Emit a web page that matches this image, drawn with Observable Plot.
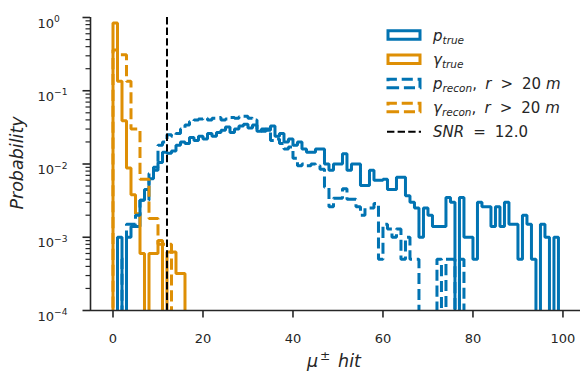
<!DOCTYPE html>
<html>
<head>
<meta charset="utf-8">
<script src="https://cdn.jsdelivr.net/npm/d3@7"></script>
<script src="https://cdn.jsdelivr.net/npm/@observablehq/plot@0.6"></script>
<style>
  body { margin: 0; background: #fff; }
  #chart svg { display: block; }
</style>
</head>
<body>
<div id="chart"></div>
<script>
// Per-hit histograms, bin width 1 starting at 0 hits, normalised to probability.
// A zero entry means an empty bin.
const pTrue = [
  0, 0.0010, 0, 0.0010, 0.0014, 0.0014, 0.0032, 0.0045, 0.0063, 0.0082,
  0.0105, 0.0145, 0.0140, 0.0150, 0.0180, 0.0200, 0.0190, 0.0230, 0.0210, 0.0240,
  0.0220, 0.0260, 0.0240, 0.0270, 0.0290, 0.0320, 0.0270, 0.0300, 0.0330, 0.0350,
  0.0310, 0.0340, 0.0280, 0.0300, 0.0290, 0.0330, 0.0240, 0.0260, 0.0200, 0.0220,
  0.0180, 0.0200, 0.0160, 0.0145, 0.0145, 0.0160, 0.0160, 0.0100, 0.0082, 0.0100,
  0.0100, 0.0138, 0.0082, 0.0100, 0.0100, 0.0051, 0.0051, 0.0082, 0.0060, 0.0060,
  0.0062, 0.0045, 0.0045, 0.0066, 0.0066, 0.0037, 0.0030, 0.0025, 0.0010, 0.0025,
  0.0020, 0.0014, 0.0014, 0.0014, 0.0035, 0.0030, 0, 0.0035, 0.0010, 0.0010,
  0.0005, 0.0030, 0.0026, 0.0026, 0.0014, 0.0026, 0.0014, 0.0030, 0.0015, 0.0015,
  0.0005, 0.0020, 0.0015, 0.0005, 0, 0.0015, 0.0010, 0, 0.0010, 0
];
const gammaTrue = [
  0.84, 0.135, 0.039, 0.0088, 0.0038, 0.0021, 0.0006, 0, 0.0006, 0.0006,
  0.0009, 0, 0.00063, 0.00063, 0.00032, 0.00032
];
const pRecon = [
  0, 0, 0.0005, 0.0015, 0.0015, 0.0020, 0.0032, 0.0032, 0.0074, 0.0090,
  0.0180, 0.0200, 0.0250, 0.0240, 0.0260, 0.0300, 0.0340, 0.0380, 0.0400, 0.0410,
  0.0420, 0.0400, 0.0420, 0.0430, 0.0400, 0.0410, 0.0430, 0.0420, 0.0440, 0.0450,
  0.0420, 0.0400, 0.0300, 0.0280, 0.0300, 0.0210, 0.0220, 0.0190, 0.0160, 0.0170,
  0.0120, 0.0095, 0.0100, 0.0095, 0.0100, 0.0095, 0.0085, 0.0048, 0.0026, 0.0034,
  0.0034, 0.0046, 0.0033, 0.0033, 0.0026, 0.0020, 0.0025, 0.0025, 0.0029, 0.0005,
  0.0015, 0.0013, 0.0010, 0.0013, 0.0005, 0.0010, 0.0005, 0.0005, 0, 0,
  0, 0, 0.0005, 0, 0.0005, 0.0005, 0, 0.0005
];
const gammaRecon = [
  0.36, 0.31, 0.31, 0.135, 0.030, 0.030, 0.0062, 0.0062, 0.0018, 0.0018,
  0.0008, 0.0008, 0.0008
];
const snrThreshold = 12.0;

// Axis ticks
const xTicks = [0, 20, 40, 60, 80, 100];
const yExponents = [-4, -3, -2, -1, 0];
const yMinorMultipliers = [2, 3, 4, 5, 6, 7, 8, 9];

const blue = "#0173b2";
const orange = "#de8f05";
const ink = "#262626";
const dashed = "11.1,4.8";

const xDomain = [-5, 103.9];
const yDomain = [1e-4, 1];
const emptyLevel = 1e-7; // empty bins fall below the frame and are clipped

const yMajor = yExponents.map(e => 10 ** e);
const yMinor = yExponents.slice(0, -1).flatMap(e => yMinorMultipliers.map(m => m * 10 ** e));

const supDigits = {"-": "\u207b", "0": "\u2070", "1": "\u00b9", "2": "\u00b2", "3": "\u00b3", "4": "\u2074"};
const plainDigits = Object.fromEntries(Object.entries(supDigits).map(([k, v]) => [v, k]));
const powerLabel = v => "10" + String(Math.round(Math.log10(v))).split("").map(c => supDigits[c]).join("");

// Outline of a step histogram: up from the baseline, across each bin, back down
function stepOutline(values) {
  const pts = [{x: 0, y: emptyLevel}];
  values.forEach((v, i) => {
    const y = v > 0 ? v : emptyLevel;
    pts.push({x: i, y}, {x: i + 1, y});
  });
  pts.push({x: values.length, y: emptyLevel});
  return pts;
}

const series = [
  {values: pTrue, color: blue, dash: null},
  {values: gammaTrue, color: orange, dash: null},
  {values: pRecon, color: blue, dash: dashed},
  {values: gammaRecon, color: orange, dash: dashed}
];

const chart = Plot.plot({
  width: 580,
  height: 373,
  marginLeft: 90,
  marginRight: 0,
  marginTop: 17,
  marginBottom: 63,
  style: {fontFamily: "DejaVu Sans", fontSize: "13px", color: ink, background: "#fff"},
  x: {domain: xDomain},
  y: {type: "log", domain: yDomain},
  marks: [
    ...series.map(s => Plot.line(stepOutline(s.values), {
      x: "x", y: "y",
      stroke: s.color, strokeWidth: 3,
      strokeLinejoin: "miter", strokeLinecap: "butt",
      ...(s.dash ? {strokeDasharray: s.dash} : {}),
      clip: true
    })),
    Plot.ruleX([snrThreshold], {stroke: "#000", strokeWidth: 2, strokeDasharray: "7.4,3.2"}),
    Plot.ruleX([xDomain[0]], {stroke: ink, strokeWidth: 1.6}),
    Plot.ruleY([yDomain[0]], {stroke: ink, strokeWidth: 1.6}),
    Plot.axisX({ticks: xTicks, tickSize: 7.5, tickPadding: 15.5, strokeWidth: 1.6, tickFormat: d => String(d), label: null}),
    Plot.axisY({ticks: yMajor, tickSize: 7.5, strokeWidth: 1.6, fill: "none", label: null}),
    Plot.axisY({ticks: yMinor, tickSize: 4.5, strokeWidth: 1.2, fill: "none", label: null}),
    Plot.axisY({ticks: yMajor, tickSize: 0, tickPadding: 53, textAnchor: "start", dy: 6, tickFormat: powerLabel, label: null, ariaLabel: "y-power"})
  ]
});

document.getElementById("chart").append(chart);

const svg = d3.select(chart);

// Power-of-ten tick labels: base on the line, exponent raised and smaller
svg.selectAll("text").each(function () {
  const el = d3.select(this);
  const s = el.text();
  if (!/^10[\u207b\u2070\u00b9\u00b2\u00b3\u2074]+$/.test(s)) return;
  const exp = s.slice(2).split("").map(c => plainDigits[c]).join("").replace("-", "\u2212");
  el.text(null);
  el.append("tspan").text("10");
  el.append("tspan").attr("font-size", "0.7em").attr("dy", "-0.62em").text(exp);
});

// Legend and axis titles with italic math-style text
function writeParts(text, parts, size) {
  let shift = 0;
  parts.forEach(p => {
    const ts = text.append("tspan").text(p.t);
    if (p.it) ts.attr("font-style", "italic");
    if (p.gap) ts.attr("dx", p.gap * size);
    const target = p.sub ? 0.22 * size : p.sup ? -0.42 * size : 0;
    if (target !== shift) { ts.attr("dy", target - shift); shift = target; }
    if (p.sub || p.sup) ts.attr("font-size", 0.7 * size);
  });
}

const legendEntries = [
  {kind: "patch", color: blue, dash: null, parts: [{t: "p", it: 1}, {t: "true", it: 1, sub: 1}]},
  {kind: "patch", color: orange, dash: null, parts: [{t: "\u03b3", it: 1}, {t: "true", it: 1, sub: 1}]},
  {kind: "patch", color: blue, dash: dashed, parts: [{t: "p", it: 1}, {t: "recon", it: 1, sub: 1}, {t: ","},
    {t: "r", it: 1, gap: 0.55}, {t: ">", gap: 0.6}, {t: "20", gap: 0.6}, {t: "m", it: 1, gap: 0.33}]},
  {kind: "patch", color: orange, dash: dashed, parts: [{t: "\u03b3", it: 1}, {t: "recon", it: 1, sub: 1}, {t: ","},
    {t: "r", it: 1, gap: 0.55}, {t: ">", gap: 0.6}, {t: "20", gap: 0.6}, {t: "m", it: 1, gap: 0.33}]},
  {kind: "line", color: "#000", dash: "7.4,3.2", parts: [{t: "SNR", it: 1}, {t: "=", gap: 0.6}, {t: "12.0", gap: 0.6}]}
];

const legendFont = 15;
const legend = svg.append("g")
  .attr("font-family", "DejaVu Sans")
  .attr("font-size", legendFont)
  .attr("text-anchor", "start")
  .attr("fill", ink);
const handleX = 388, handleW = 32, handleH = 8.5, rowY0 = 35, rowStep = 24.2, labelX = 433;

legendEntries.forEach((e, i) => {
  const cy = rowY0 + i * rowStep;
  if (e.kind === "patch") {
    const top = cy - handleH / 2, bottom = cy + handleH / 2;
    legend.append("path")
      .attr("d", `M${handleX},${bottom}L${handleX + handleW},${bottom}L${handleX + handleW},${top}L${handleX},${top}Z`)
      .attr("fill", "none")
      .attr("stroke", e.color)
      .attr("stroke-width", 3)
      .attr("stroke-linejoin", "miter")
      .attr("stroke-dasharray", e.dash);
  } else {
    legend.append("line")
      .attr("x1", handleX - 1).attr("x2", handleX + handleW + 1)
      .attr("y1", cy).attr("y2", cy)
      .attr("stroke", e.color)
      .attr("stroke-width", 2)
      .attr("stroke-dasharray", e.dash);
  }
  const text = legend.append("text")
    .attr("x", labelX)
    .attr("y", cy + (e.kind === "patch" ? 5.5 : 4.8));
  writeParts(text, e.parts, legendFont);
});

const titleFont = 17.5;
const yTitle = svg.append("text")
  .attr("transform", "translate(23,163) rotate(-90)")
  .attr("text-anchor", "middle")
  .attr("font-family", "DejaVu Sans")
  .attr("font-size", titleFont)
  .attr("fill", ink);
writeParts(yTitle, [{t: "Probability", it: 1}], titleFont);

const xTitle = svg.append("text")
  .attr("x", 334)
  .attr("y", 367)
  .attr("text-anchor", "middle")
  .attr("font-family", "DejaVu Sans")
  .attr("font-size", titleFont)
  .attr("fill", ink);
writeParts(xTitle, [{t: "\u03bc", it: 1}, {t: "\u00b1", sup: 1, gap: 0.1}, {t: "hit", it: 1, gap: 0.45}], titleFont);
</script>
</body>
</html>
